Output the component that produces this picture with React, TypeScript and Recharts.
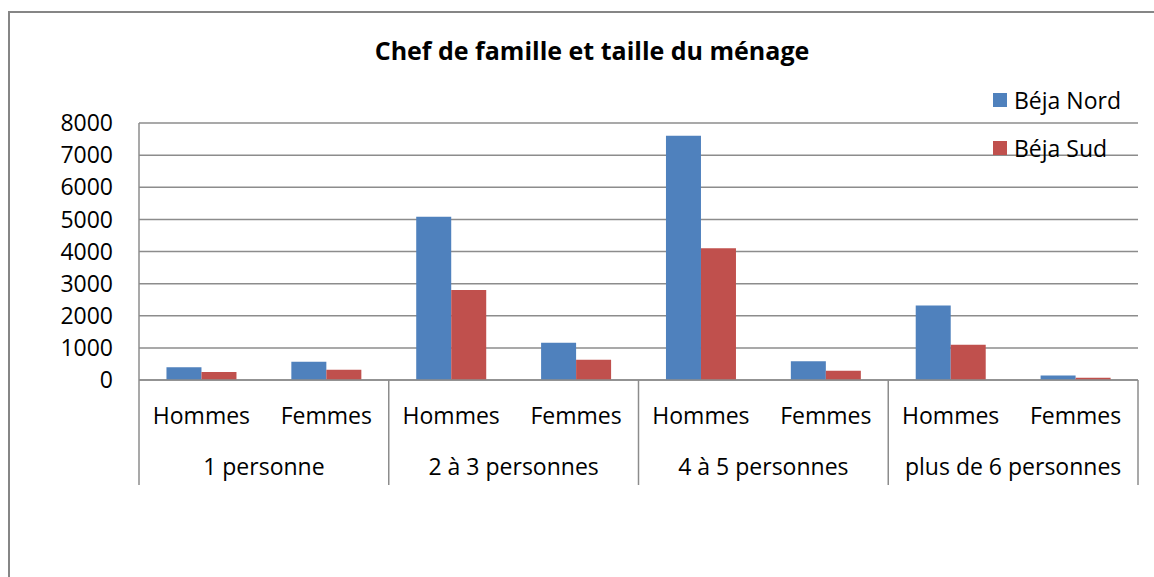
import React from "react";
import { BarChart, Bar, XAxis, YAxis, CartesianGrid, Legend } from "recharts";

// Data
const sexes = ["Hommes", "Femmes", "Hommes", "Femmes", "Hommes", "Femmes", "Hommes", "Femmes"];
const groupes = [
  "1 personne", "1 personne",
  "2 à 3 personnes", "2 à 3 personnes",
  "4 à 5 personnes", "4 à 5 personnes",
  "plus de 6 personnes", "plus de 6 personnes",
];
const bejaNord = [400, 570, 5080, 1160, 7600, 580, 2320, 140];
const bejaSud = [250, 320, 2800, 630, 4100, 290, 1100, 70];
const yTicks = [0, 1000, 2000, 3000, 4000, 5000, 6000, 7000, 8000];

const data = sexes.map((s, i) => ({
  sexe: s,
  groupe: groupes[i],
  nord: bejaNord[i],
  sud: bejaSud[i],
}));

const FONT = "'Open Sans', sans-serif";
const GRID = "#8c8c8c";
const BLUE = "#4f81bd";
const RED = "#c0504d";
const SEXE_H = 55;
const GROUPE_H = 50;
const GROUPE_MARGIN = 24;

const SexeTick = (props: any) => {
  const { x, y, payload } = props;
  return (
    <text x={x} y={y} dy="0.71em" textAnchor="middle" fill="#000" fontSize={23} fontFamily={FONT}>
      {payload.value}
    </text>
  );
};

// group label + the vertical separators between groups
const GroupeTick = (props: any) => {
  const { x, y, payload, index, visibleTicksCount } = props;
  const half = payload.offset || 0;
  const top = y - GROUPE_MARGIN - SEXE_H;
  const bottom = y - GROUPE_MARGIN + GROUPE_H;
  return (
    <g>
      <line x1={x - half} x2={x - half} y1={top} y2={bottom} stroke={GRID} strokeWidth={1.5} />
      {index === visibleTicksCount - 1 && (
        <line x1={x + half} x2={x + half} y1={top} y2={bottom} stroke={GRID} strokeWidth={1.5} />
      )}
      <text x={x} y={y} dy="0.71em" textAnchor="middle" fill="#000" fontSize={23} fontFamily={FONT}>
        {payload.value}
      </text>
    </g>
  );
};

const renderLegend = () => (
  <div style={{ fontFamily: FONT, fontSize: 23, color: "#000" }}>
    {[{ label: "Béja Nord", color: BLUE }, { label: "Béja Sud", color: RED }].map((item) => (
      <div key={item.label} style={{ display: "flex", alignItems: "center", height: 48 }}>
        <span style={{ display: "inline-block", width: 14, height: 14, background: item.color, marginRight: 7 }} />
        <span>{item.label}</span>
      </div>
    ))}
  </div>
);

export default function App() {
  return (
    <div style={{ position: "absolute", left: 0, top: 0, width: 1154, height: 577, background: "#fff", overflow: "hidden" }}>
      <div
        style={{
          position: "absolute",
          left: 8,
          top: 11,
          width: 1200,
          height: 700,
          border: "2px solid #868686",
          boxSizing: "border-box",
        }}
      />
      <div
        style={{
          position: "absolute",
          left: 0,
          top: 33,
          width: 1184,
          textAlign: "center",
          fontFamily: FONT,
          fontWeight: 700,
          fontSize: 25,
          lineHeight: "34px",
          color: "#000",
        }}
      >
        Chef de famille et taille du ménage
      </div>
      <div style={{ position: "absolute", left: 0, top: 0 }}>
        <BarChart
          width={1154}
          height={577}
          data={data}
          margin={{ top: 123, right: 16, left: 0, bottom: 92 }}
          barGap={0}
          barCategoryGap="22%"
        >
          <CartesianGrid vertical={false} stroke={GRID} strokeWidth={1.5} />
          <XAxis
            dataKey="sexe"
            height={SEXE_H}
            tickLine={false}
            tickSize={0}
            tickMargin={28}
            axisLine={{ stroke: GRID, strokeWidth: 1.5 }}
            tick={<SexeTick />}
            interval={0}
          />
          <XAxis
            xAxisId="groupe"
            dataKey="groupe"
            allowDuplicatedCategory={false}
            height={GROUPE_H}
            tickLine={false}
            tickSize={0}
            tickMargin={GROUPE_MARGIN}
            axisLine={false}
            tick={<GroupeTick />}
            interval={0}
          />
          <YAxis
            width={139}
            domain={[0, 8000]}
            ticks={yTicks}
            tickLine={false}
            tickSize={0}
            tickMargin={26}
            axisLine={{ stroke: GRID, strokeWidth: 1.5 }}
            tick={{ fill: "#000", fontSize: 23, fontFamily: FONT }}
          />
          <Legend
            layout="vertical"
            align="center"
            verticalAlign="middle"
            content={renderLegend}
            wrapperStyle={{ position: "absolute", left: 993, top: 76, width: 160 }}
          />
          <Bar dataKey="nord" name="Béja Nord" fill={BLUE} isAnimationActive={false} />
          <Bar dataKey="sud" name="Béja Sud" fill={RED} isAnimationActive={false} />
        </BarChart>
      </div>
    </div>
  );
}
